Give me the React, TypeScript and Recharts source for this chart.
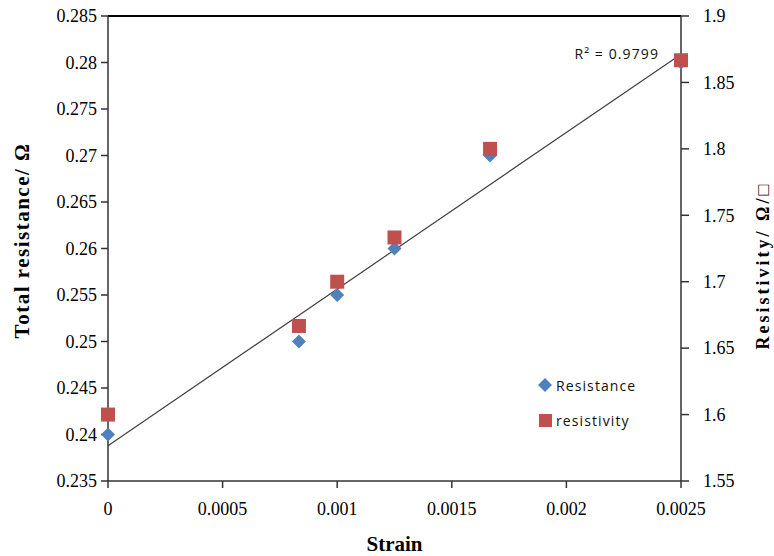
import React from 'react';
import {
  ComposedChart,
  Scatter,
  Line,
  XAxis,
  YAxis,
  Label,
  ReferenceLine,
  ReferenceDot,
  Legend,
} from 'recharts';

const strain = [0, 0.000833, 0.001, 0.00125, 0.001667, 0.0025];
const resistance = [0.24, 0.25, 0.255, 0.26, 0.27, 0.28];
const resistivity = [1.6, 1.6667, 1.7, 1.7333, 1.8, 1.8667];
const trendX = [0, 0.0025];
const trendY = [0.2388, 0.2809];
const r2Text = 'R² = 0.9799';

const xTicks = [0, 0.0005, 0.001, 0.0015, 0.002, 0.0025];
const leftTicks = [0.235, 0.24, 0.245, 0.25, 0.255, 0.26, 0.265, 0.27, 0.275, 0.28, 0.285];
const rightTicks = [1.55, 1.6, 1.65, 1.7, 1.75, 1.8, 1.85, 1.9];

const resistanceData = strain.map((x, i) => ({ x, y: resistance[i] }));
const resistivityData = strain.map((x, i) => ({ x, y: resistivity[i] }));
const trendData = trendX.map((x, i) => ({ x, y: trendY[i] }));

const BLUE = '#4F81BD';
const RED = '#C0504D';
const AXIS = '#333';
const SERIF = "'Liberation Serif', 'Times New Roman', serif";
const SANS = "'Open Sans', 'Liberation Sans', sans-serif";

const titleStyle: any = { fontFamily: SERIF, fontSize: 21, fontWeight: 'bold', fill: '#000' };

const YTick = (props: any) => {
  const { x, y, payload, textAnchor } = props;
  return (
    <text x={x} y={y} dy="0.35em" textAnchor={textAnchor} style={{ fontFamily: SERIF, fontSize: 18 }} fill="#000">
      {String(payload.value)}
    </text>
  );
};

const XTick = (props: any) => {
  const { x, y, payload } = props;
  return (
    <text x={x} y={y} dy="0.75em" textAnchor="middle" style={{ fontFamily: SERIF, fontSize: 18 }} fill="#000">
      {String(payload.value)}
    </text>
  );
};

const makeVTitle = (
  text: string,
  side: 'left' | 'right',
  dx: number,
  dyShift: number,
  spacing: number,
  size: number
) => (props: any) => {
  const vb = props.viewBox || {};
  const cx = side === 'left' ? vb.x + dx : vb.x + vb.width - dx;
  const cy = vb.y + vb.height / 2 + dyShift;
  return (
    <text
      x={cx}
      y={cy}
      transform={`rotate(-90, ${cx}, ${cy})`}
      textAnchor="middle"
      dominantBaseline="central"
      style={{ ...titleStyle, fontSize: size, letterSpacing: spacing }}
    >
      {text}
    </text>
  );
};

const Diamond = (props: any) => {
  const { cx, cy } = props;
  const r = 7;
  return <polygon points={`${cx},${cy - r} ${cx + r},${cy} ${cx},${cy + r} ${cx - r},${cy}`} fill={BLUE} />;
};

const Square = (props: any) => {
  const { cx, cy } = props;
  const s = 14;
  return <rect x={cx - s / 2} y={cy - s / 2} width={s} height={s} fill={RED} />;
};

const LegendContent = () => (
  <div style={{ fontFamily: SANS, fontSize: 14, color: '#111', letterSpacing: 1.1 }}>
    <div style={{ display: 'flex', alignItems: 'center', height: 22, marginBottom: 13 }}>
      <svg width={16} height={16} style={{ marginRight: 3 }}>
        <polygon points="8,1 15,8 8,15 1,8" fill={BLUE} />
      </svg>
      <span>Resistance</span>
    </div>
    <div style={{ display: 'flex', alignItems: 'center', height: 22 }}>
      <svg width={16} height={16} style={{ marginRight: 3 }}>
        <rect x={2} y={2} width={13} height={13} fill={RED} />
      </svg>
      <span>resistivity</span>
    </div>
  </div>
);

export default function App() {
  return (
    <div style={{ position: 'absolute', left: 0, top: 0, background: '#fff' }}>
      <ComposedChart width={774} height={556} margin={{ top: 16, right: 0, bottom: 0, left: 0 }}>
        <XAxis
          type="number"
          dataKey="x"
          domain={[0, 0.0025]}
          ticks={xTicks}
          height={75}
          tick={<XTick />}
          tickSize={7}
          tickMargin={13}
          stroke={AXIS}
          strokeWidth={1.5}
        >
          <Label value="Strain" position="insideBottom" offset={5} style={titleStyle} />
        </XAxis>
        <YAxis
          yAxisId="left"
          type="number"
          domain={[0.235, 0.285]}
          ticks={leftTicks}
          width={108}
          tick={<YTick />}
          tickSize={7}
          tickMargin={4}
          stroke={AXIS}
          strokeWidth={1.5}
        >
          <Label content={makeVTitle('Total resistance/ Ω', 'left', 22, -8, 1.5, 21)} />
        </YAxis>
        <YAxis
          yAxisId="right"
          orientation="right"
          type="number"
          domain={[1.55, 1.9]}
          ticks={rightTicks}
          width={93}
          tick={<YTick />}
          tickSize={8}
          tickMargin={14}
          stroke={AXIS}
          strokeWidth={1.5}
        >
          <Label content={makeVTitle('Resistivity/ Ω/□', 'right', 11, 17, 3, 18)} />
        </YAxis>
        <ReferenceLine yAxisId="left" y={0.285} stroke="#000" strokeWidth={2} />
        <Line
          yAxisId="left"
          data={trendData}
          dataKey="y"
          type="linear"
          stroke="#404040"
          strokeWidth={1.2}
          dot={false}
          activeDot={false}
          legendType="none"
          isAnimationActive={false}
        />
        <Scatter
          yAxisId="left"
          name="Resistance"
          data={resistanceData}
          dataKey="y"
          shape={Diamond}
          isAnimationActive={false}
        />
        <Scatter
          yAxisId="right"
          name="resistivity"
          data={resistivityData}
          dataKey="y"
          shape={Square}
          isAnimationActive={false}
        />
        <ReferenceDot
          yAxisId="left"
          x={trendX[1]}
          y={trendY[1]}
          r={0}
          stroke="none"
          fill="none"
          label={{
            value: r2Text,
            position: 'left',
            offset: 22,
            style: { fontFamily: SANS, fontSize: 14, fill: '#111', letterSpacing: 1.1 },
          }}
        />
        <Legend
          layout="vertical"
          align="center"
          verticalAlign="middle"
          content={LegendContent}
          wrapperStyle={{ position: 'absolute', left: 537, top: 374, width: 140 }}
        />
      </ComposedChart>
    </div>
  );
}
